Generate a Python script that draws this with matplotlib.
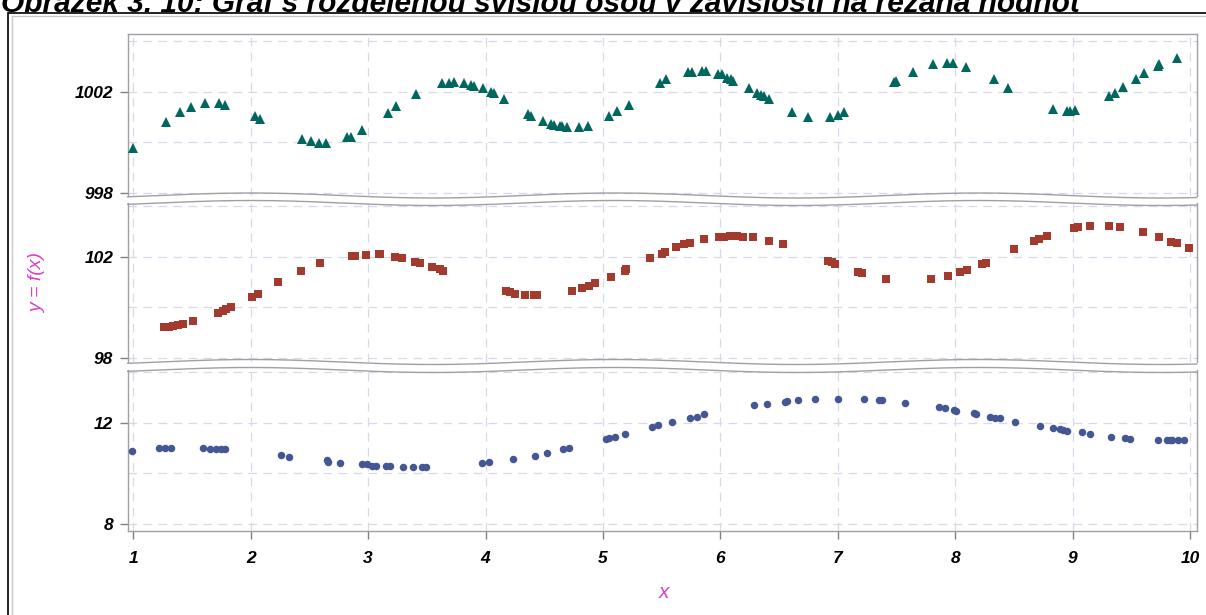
import numpy as np
import matplotlib.pyplot as plt
from matplotlib.patches import Rectangle

plt.rcParams['font.family'] = ['Liberation Sans', 'DejaVu Sans']

# upper segment (triangles)
x_top = [1.00, 1.28, 1.40, 1.49, 1.61, 1.73, 1.78, 2.04, 2.08, 2.44, 2.51, 2.58, 2.64,
         2.82, 2.85, 2.95, 3.17, 3.24, 3.41, 3.63, 3.69, 3.73, 3.82, 3.88, 3.90, 3.98,
         4.05, 4.07, 4.16, 4.36, 4.39, 4.49, 4.56, 4.58, 4.63, 4.65, 4.69, 4.80, 4.87,
         5.05, 5.12, 5.22, 5.49, 5.54, 5.72, 5.76, 5.84, 5.88, 5.98, 6.01, 6.06, 6.09,
         6.11, 6.24, 6.31, 6.35, 6.37, 6.41, 6.61, 6.75, 6.93, 7.00, 7.05, 7.48, 7.50,
         7.64, 7.81, 7.93, 7.98, 8.09, 8.33, 8.45, 8.83, 8.95, 8.98, 9.02, 9.31, 9.36,
         9.43, 9.54, 9.61, 9.73, 9.74, 9.89]
y_top = [999.77, 1000.80, 1001.19, 1001.39, 1001.56, 1001.56, 1001.49, 1001.03, 1000.94,
         1000.15, 1000.06, 999.99, 999.99, 1000.20, 1000.23, 1000.49, 1001.15, 1001.44,
         1001.90, 1002.33, 1002.33, 1002.39, 1002.33, 1002.26, 1002.22, 1002.13, 1002.00,
         1001.94, 1001.70, 1001.12, 1001.04, 1000.86, 1000.73, 1000.69, 1000.66, 1000.65,
         1000.60, 1000.60, 1000.65, 1001.04, 1001.25, 1001.49, 1002.33, 1002.49, 1002.76,
         1002.76, 1002.83, 1002.83, 1002.70, 1002.69, 1002.55, 1002.49, 1002.43, 1002.13,
         1001.96, 1001.87, 1001.83, 1001.70, 1001.21, 1000.99, 1000.99, 1001.08, 1001.19,
         1002.37, 1002.43, 1002.79, 1003.08, 1003.14, 1003.14, 1002.98, 1002.49, 1002.13,
         1001.31, 1001.24, 1001.24, 1001.28, 1001.84, 1001.94, 1002.17, 1002.49, 1002.72,
         1003.02, 1003.08, 1003.31]

# middle segment (squares)
x_mid = [1.26, 1.30, 1.34, 1.38, 1.42, 1.51, 1.72, 1.76, 1.79, 1.83, 2.01, 2.06, 2.23,
         2.43, 2.59, 2.86, 2.89, 2.98, 3.09, 3.10, 3.23, 3.29, 3.40, 3.44, 3.54, 3.61,
         3.64, 4.17, 4.21, 4.25, 4.34, 4.41, 4.44, 4.74, 4.82, 4.88, 4.93, 5.07, 5.19,
         5.20, 5.40, 5.50, 5.53, 5.62, 5.69, 5.74, 5.86, 5.99, 6.03, 6.08, 6.14, 6.19,
         6.28, 6.41, 6.53, 6.92, 6.95, 6.98, 7.17, 7.21, 7.41, 7.79, 7.94, 8.04, 8.10,
         8.23, 8.26, 8.50, 8.67, 8.71, 8.78, 9.01, 9.05, 9.15, 9.31, 9.40, 9.60, 9.74,
         9.84, 9.89, 9.99]
y_mid = [99.22, 99.24, 99.27, 99.31, 99.35, 99.46, 99.77, 99.86, 99.94, 100.01, 100.40,
         100.53, 100.99, 101.45, 101.74, 102.03, 102.03, 102.08, 102.09, 102.09, 101.97,
         101.94, 101.80, 101.75, 101.59, 101.50, 101.45, 100.66, 100.60, 100.53, 100.49,
         100.49, 100.49, 100.65, 100.76, 100.86, 100.95, 101.19, 101.45, 101.50, 101.94,
         102.09, 102.20, 102.39, 102.49, 102.55, 102.69, 102.76, 102.76, 102.83, 102.83,
         102.79, 102.79, 102.63, 102.50, 101.84, 101.78, 101.69, 101.40, 101.35, 101.10,
         101.10, 101.24, 101.39, 101.49, 101.70, 101.75, 102.29, 102.63, 102.69, 102.83,
         103.12, 103.18, 103.22, 103.22, 103.17, 102.97, 102.78, 102.58, 102.53, 102.33]

# lower segment (circles)
x_low = [0.99, 1.22, 1.27, 1.32, 1.59, 1.65, 1.70, 1.75, 1.78, 2.26, 2.33, 2.65, 2.66,
         2.76, 2.95, 2.99, 3.03, 3.07, 3.15, 3.19, 3.30, 3.38, 3.46, 3.49, 3.97, 4.03,
         4.23, 4.42, 4.52, 4.66, 4.71, 5.03, 5.05, 5.10, 5.19, 5.42, 5.47, 5.59, 5.74,
         5.80, 5.86, 6.29, 6.40, 6.55, 6.57, 6.66, 6.81, 7.00, 7.22, 7.35, 7.38, 7.57,
         7.86, 7.91, 7.99, 8.01, 8.16, 8.18, 8.30, 8.34, 8.38, 8.51, 8.72, 8.83, 8.89,
         8.92, 8.95, 9.08, 9.15, 9.33, 9.45, 9.49, 9.73, 9.80, 9.83, 9.85, 9.90, 9.95]
y_low = [10.90, 11.00, 11.00, 11.00, 11.00, 10.95, 10.95, 10.95, 10.95, 10.72, 10.66,
         10.53, 10.46, 10.41, 10.36, 10.36, 10.31, 10.31, 10.31, 10.31, 10.27, 10.27,
         10.27, 10.27, 10.40, 10.46, 10.56, 10.70, 10.81, 10.95, 11.00, 11.35, 11.41,
         11.45, 11.56, 11.84, 11.90, 12.04, 12.20, 12.24, 12.34, 12.70, 12.74, 12.83,
         12.85, 12.89, 12.93, 12.93, 12.93, 12.89, 12.89, 12.79, 12.63, 12.59, 12.50,
         12.47, 12.39, 12.34, 12.24, 12.20, 12.20, 12.04, 11.88, 11.79, 11.75, 11.72,
         11.69, 11.62, 11.56, 11.45, 11.40, 11.36, 11.31, 11.31, 11.31, 11.31, 11.31, 11.31]

x_ticks = [1, 2, 3, 4, 5, 6, 7, 8, 9, 10]
title = "Obrázek 3. 10: Graf s rozdělenou svislou osou v závislosti na řezaná hodnot"

W, H = 1206, 615
XLIM = (0.952, 10.057)
FRAME = '#A0A0A0'
GRID = '#D8D8EC'
PINK = '#DD3FC8'

fig = plt.figure(figsize=(W / 100, H / 100), dpi=100)


def rect(top, bottom):
    return [127.7 / W, 1 - bottom / H, 1069 / W, (bottom - top) / H]


def wave(ax, where, height_px):
    # wavy edge marking the axis break
    xs = np.linspace(XLIM[0], XLIM[1], 400)
    off = 2.5 * np.cos(2 * np.pi * (xs - 2.0) / 3.1) / height_px
    ax.plot(xs, where + off, color=FRAME, lw=1.0, clip_on=False,
            transform=ax.get_xaxis_transform(), zorder=5)


panels = [
    (rect(34, 195.5), 161.5, (997.91, 1004.27), [998, 1002], [1000, 1004],
     x_top, y_top, '^', '#01665E', 6.6),
    (rect(203, 362), 159.0, (97.85, 104.11), [98, 102], [100, 104],
     x_mid, y_mid, 's', '#A23A2E', 5.2),
    (rect(370, 530.7), 160.7, (7.75, 14.07), [8, 12], [10, 14],
     x_low, y_low, 'o', '#445694', 5.4),
]

axes = []
for i, (r, hpx, ylim, major, minor, xs, ys, mk, col, ms) in enumerate(panels):
    ax = fig.add_axes(r)
    ax.plot(xs, ys, linestyle='none', marker=mk, color=col, markersize=ms,
            markeredgewidth=0, zorder=3)
    ax.set_xlim(*XLIM)
    ax.set_ylim(*ylim)
    ax.set_xticks(x_ticks)
    ax.set_yticks(major)
    ax.set_yticks(minor, minor=True)
    ax.set_yticklabels([str(v) for v in major], fontsize=12.5,
                       fontweight='bold', fontstyle='italic')
    ax.grid(True, which='both', color=GRID, lw=0.9, linestyle=(0, (7, 5)))
    ax.set_axisbelow(True)
    ax.tick_params(axis='y', which='major', direction='out', length=5.5,
                   width=1, color='#808080', pad=5)
    ax.tick_params(axis='y', which='minor', length=0)
    for s in ax.spines.values():
        s.set_color(FRAME)
        s.set_linewidth(1.0)
    if i < 2:
        ax.spines['bottom'].set_visible(False)
        ax.tick_params(axis='x', length=0, labelbottom=False)
        wave(ax, 0.0, hpx)
    if i > 0:
        ax.spines['top'].set_visible(False)
        wave(ax, 1.0, hpx)
    axes.append(ax)

low = axes[-1]
low.set_xticklabels([str(v) for v in x_ticks], fontsize=12.5,
                    fontweight='bold', fontstyle='italic')
low.tick_params(axis='x', direction='out', length=5.5, width=1,
                color='#808080', pad=9)

fig.text(38 / W, 1 - 283 / H, 'y = f(x)', rotation=90, color=PINK,
         fontsize=14, fontstyle='italic', ha='center', va='center')
fig.text(664 / W, 1 - 592 / H, 'x', color=PINK, fontsize=15,
         fontstyle='italic', ha='center', va='center')

# caption line sits at the very top edge of the page
fig.text(1 / W, 1 - 11.5 / H, title, fontsize=21.5, fontweight='bold',
         fontstyle='italic', ha='left', va='baseline')

# page border
fig.add_artist(Rectangle((8 / W, -0.1), 1.2, 1.1 - 13 / H, transform=fig.transFigure,
                         fill=False, ec='#111111', lw=1.3))
fig.add_artist(Rectangle((11.5 / W, -0.1), 1.2, 1.1 - 16 / H, transform=fig.transFigure,
                         fill=False, ec='#C8C8C8', lw=1.0))

fig.savefig('out.png', dpi=100)
